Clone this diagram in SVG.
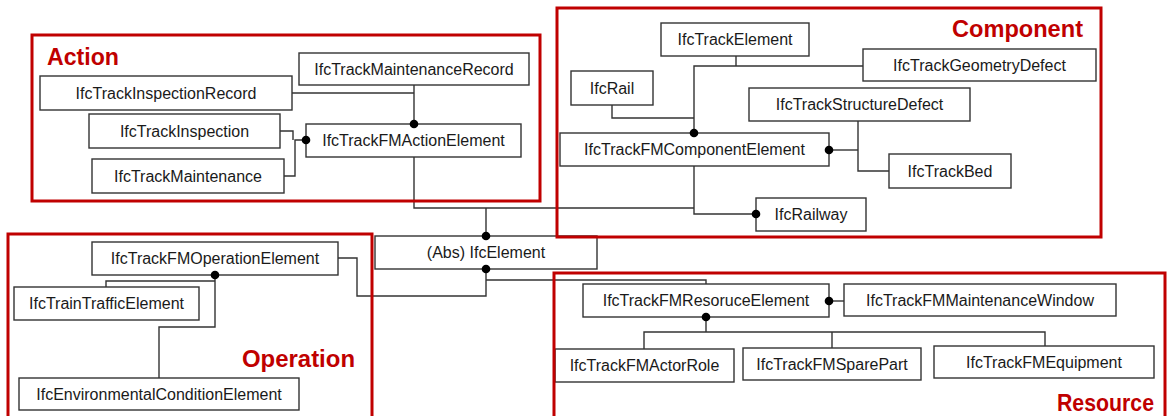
<svg xmlns="http://www.w3.org/2000/svg" width="1167" height="416" viewBox="0 0 1167 416">
  <style>
    .box { fill: #ffffff; stroke: #333333; stroke-width: 1.4; }
    .lbl { font-family: "Liberation Sans", Arial, sans-serif; font-size: 16px; fill: #1a1a1a; text-anchor: middle; }
    .frame { fill: none; stroke: #C00000; stroke-width: 3; }
    .title { font-family: "Liberation Sans", Arial, sans-serif; font-size: 24px; font-weight: bold; fill: #C00000; }
    .conn path { fill: none; stroke: #333333; stroke-width: 1.4; }
    .conn circle { fill: #000000; }
  </style>
  <rect x="0" y="0" width="1167" height="416" fill="#ffffff"/>

  <g id="n-inspection-record"><rect class="box" x="40" y="76" width="252" height="34"/><text class="lbl" x="166" y="99">IfcTrackInspectionRecord</text></g>
  <g id="n-inspection"><rect class="box" x="89" y="114" width="191" height="34"/><text class="lbl" x="184.5" y="137">IfcTrackInspection</text></g>
  <g id="n-maintenance"><rect class="box" x="92" y="159" width="192" height="34"/><text class="lbl" x="188" y="182">IfcTrackMaintenance</text></g>
  <g id="n-maintenance-record"><rect class="box" x="299" y="53" width="230" height="32"/><text class="lbl" x="414" y="75">IfcTrackMaintenanceRecord</text></g>
  <g id="n-action-element"><rect class="box" x="306" y="124" width="215" height="33"/><text class="lbl" x="413.5" y="146">IfcTrackFMActionElement</text></g>

  <g id="n-abs-element"><rect class="box" x="375" y="236" width="222" height="33"/><text class="lbl" x="486" y="258">(Abs) IfcElement</text></g>

  <g id="n-track-element"><rect class="box" x="661" y="23" width="148" height="33"/><text class="lbl" x="735" y="45">IfcTrackElement</text></g>
  <g id="n-rail"><rect class="box" x="571" y="71" width="82" height="34"/><text class="lbl" x="612" y="94">IfcRail</text></g>
  <g id="n-geometry-defect"><rect class="box" x="863" y="49" width="233" height="32"/><text class="lbl" x="979.5" y="71">IfcTrackGeometryDefect</text></g>
  <g id="n-structure-defect"><rect class="box" x="749" y="88" width="221" height="33"/><text class="lbl" x="859.5" y="110">IfcTrackStructureDefect</text></g>
  <g id="n-component-element"><rect class="box" x="560" y="133" width="269" height="33"/><text class="lbl" x="694.5" y="155">IfcTrackFMComponentElement</text></g>
  <g id="n-trackbed"><rect class="box" x="889" y="154" width="122" height="34"/><text class="lbl" x="950" y="177">IfcTrackBed</text></g>
  <g id="n-railway"><rect class="box" x="756" y="198" width="110" height="33"/><text class="lbl" x="811" y="220">IfcRailway</text></g>

  <g id="n-operation-element"><rect class="box" x="92" y="242" width="246" height="33"/><text class="lbl" x="215" y="264">IfcTrackFMOperationElement</text></g>
  <g id="n-train-traffic"><rect class="box" x="14" y="287" width="185" height="33"/><text class="lbl" x="106.5" y="309">IfcTrainTrafficElement</text></g>
  <g id="n-environmental"><rect class="box" x="19" y="378" width="280" height="32"/><text class="lbl" x="159" y="400">IfcEnvironmentalConditionElement</text></g>

  <g id="n-resource-element"><rect class="box" x="583" y="284" width="246" height="33"/><text class="lbl" x="706" y="306">IfcTrackFMResoruceElement</text></g>
  <g id="n-maintenance-window"><rect class="box" x="844" y="284" width="272" height="32"/><text class="lbl" x="980" y="306">IfcTrackFMMaintenanceWindow</text></g>
  <g id="n-actor-role"><rect class="box" x="555" y="349" width="179" height="33"/><text class="lbl" x="644.5" y="371">IfcTrackFMActorRole</text></g>
  <g id="n-spare-part"><rect class="box" x="743" y="348" width="178" height="32"/><text class="lbl" x="832" y="370">IfcTrackFMSparePart</text></g>
  <g id="n-equipment"><rect class="box" x="934" y="346" width="220" height="32"/><text class="lbl" x="1044" y="368">IfcTrackFMEquipment</text></g>

  <g id="connectors" class="conn">
    <!-- Action -->
    <path d="M292,93 H414"/>
    <path d="M414,85 V124"/>
    <circle cx="414" cy="124" r="4.3"/>
    <path d="M280,131 H293 V140"/>
    <path d="M284,176 H295 V140 H306"/>
    <circle cx="306" cy="140" r="4.3"/>
    <path d="M414,157 V208 H694"/>
    <!-- Abs IfcElement -->
    <path d="M486,208 V236"/>
    <circle cx="486" cy="236" r="4.3"/>
    <path d="M486,269 V296 H357 V258 H338"/>
    <path d="M486,280 H706 V284"/>
    <circle cx="486" cy="269" r="4.3"/>
    <!-- Component -->
    <path d="M694,133 V66 H863"/>
    <path d="M736,56 V66"/>
    <path d="M612,105 V118 H694"/>
    <circle cx="694" cy="133" r="4.3"/>
    <path d="M829,150 H858"/>
    <path d="M858,121 V171 H889"/>
    <circle cx="829" cy="150" r="4.3"/>
    <path d="M694,166 V214 H756"/>
    <circle cx="756" cy="214" r="4.3"/>
    <!-- Operation -->
    <path d="M215,275 V327 H159 V378"/>
    <path d="M215,281 H106 V287"/>
    <circle cx="215" cy="275" r="4.3"/>
    <!-- Resource -->
    <path d="M829,301 H844"/>
    <circle cx="829" cy="301" r="4.3"/>
    <path d="M706,317 V332"/>
    <path d="M644,349 V332 H1045 V346"/>
    <path d="M832,332 V348"/>
    <circle cx="706" cy="317" r="4.3"/>
  </g>

  <g id="group-action"><rect class="frame" x="32" y="35" width="508" height="166"/><text class="title" x="47" y="65" textLength="72" lengthAdjust="spacingAndGlyphs">Action</text></g>
  <g id="group-component"><rect class="frame" x="557" y="8" width="544" height="229"/><text class="title" x="952" y="37" textLength="131" lengthAdjust="spacingAndGlyphs">Component</text></g>
  <g id="group-operation"><rect class="frame" x="8" y="234" width="364" height="200"/><text class="title" x="242" y="367" textLength="113" lengthAdjust="spacingAndGlyphs">Operation</text></g>
  <g id="group-resource"><rect class="frame" x="554" y="273" width="611" height="160"/><text class="title" x="1057" y="411" textLength="97" lengthAdjust="spacingAndGlyphs">Resource</text></g>
</svg>
